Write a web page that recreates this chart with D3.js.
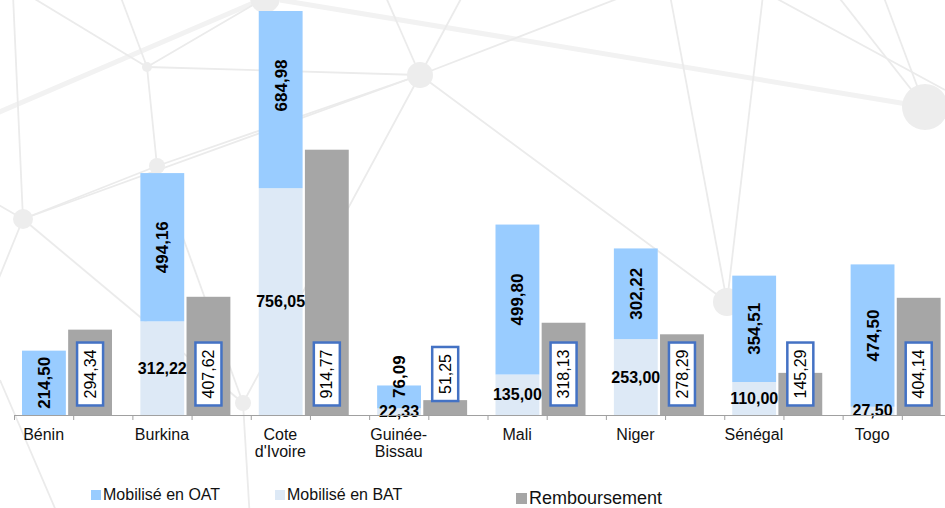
<!DOCTYPE html>
<html>
<head>
<meta charset="utf-8">
<script src="https://cdn.jsdelivr.net/npm/d3@7"></script>
<style>
  body { margin: 0; background: #fff; }
  svg { display: block; font-family: "Liberation Sans", Arial, sans-serif; }
</style>
</head>
<body>
<script>
'use strict';

// data
const countries = ['Bénin', 'Burkina', "Cote d'Ivoire", 'Guinée-Bissau', 'Mali', 'Niger', 'Sénégal', 'Togo'];
const countryLines = [['Bénin'], ['Burkina'], ['Cote', "d'Ivoire"], ['Guinée-', 'Bissau'], ['Mali'], ['Niger'], ['Sénégal'], ['Togo']];
const bat = [0, 312.22, 756.05, 22.33, 135.00, 253.00, 110.00, 27.50];
const oat = [214.50, 494.16, 684.98, 76.09, 499.80, 302.22, 354.51, 474.50];
const remb = [294.34, 407.62, 914.77, 51.25, 318.13, 278.29, 145.29, 404.14];
const seriesNames = ['Mobilisé en OAT', 'Mobilisé en BAT', 'Remboursement'];

// faint network in the background (decoration only)
const backdropNodes = [
  {x: 147, y: 67, r: 5}, {x: 157, y: 166, r: 8}, {x: 23, y: 219, r: 10},
  {x: 420, y: 75, r: 13}, {x: 265, y: -2, r: 15}, {x: 925, y: 107, r: 23},
  {x: 243, y: 403, r: 8}, {x: 727, y: 302, r: 14}
];
const backdropLinks = [
  [147, 67, 420, 75], [157, 166, 420, 75], [23, 219, 157, 166], [147, 67, 157, 166],
  [147, 67, 120, -5], [147, 67, 20, -10], [147, 67, 265, -2], [23, 219, 13, -5],
  [23, 219, 420, 75], [23, 219, 243, 403], [157, 166, 243, 403], [420, 75, 243, 403],
  [420, 75, 727, 302], [420, 75, 627, -5], [420, 75, 385, -5], [420, 75, 463, -5],
  [727, 302, 670, -5], [727, 302, 763, -5], [243, 403, 250, 520], [770, -5, 945, 90],
  [837, -5, 925, 107], [883, -5, 925, 107], [23, 219, -10, 200], [23, 219, -10, 300],
  [0, 380, 60, 520]
];
const backdropThick = [[280, 0, 925, 107], [-10, 116, 265, -2]];

const W = 945, H = 508;
const baseY = 415, plotTop = 11;

const svg = d3.select('body').append('svg').attr('width', W).attr('height', H);

const bg = svg.append('g');
bg.selectAll('line.thick').data(backdropThick).join('line')
  .attr('x1', d => d[0]).attr('y1', d => d[1]).attr('x2', d => d[2]).attr('y2', d => d[3])
  .attr('stroke', '#f2f2f2').attr('stroke-width', 5);
bg.selectAll('line.thin').data(backdropLinks).join('line')
  .attr('x1', d => d[0]).attr('y1', d => d[1]).attr('x2', d => d[2]).attr('y2', d => d[3])
  .attr('stroke', '#ebebeb').attr('stroke-width', 1.8);
bg.selectAll('circle').data(backdropNodes).join('circle')
  .attr('cx', d => d.x).attr('cy', d => d.y).attr('r', d => d.r)
  .attr('fill', '#ededed');

const xScale = d3.scaleBand().domain(countries).range([14, 961]).padding(0);
const inner = d3.scaleBand().domain(['stack', 'remb']).range([8, 98]).paddingInner(0.05);
const halfScale = d3.scaleLinear().domain([0, countries.length * 2]).range([14, 961]);

// stacked bars and repayments were drawn on slightly different axes
const yStack = d3.scaleLinear().domain([0, 1000]).range([baseY, baseY - 300]);
const yRemb = d3.scaleLinear().domain([0, 1000]).range([baseY, baseY - 290]);

const colors = {oat: '#99CCFF', bat: '#DDE9F6', remb: '#A6A6A6'};

const rows = countries.map((c, i) => ({c, i, bat: bat[i], oat: oat[i], remb: remb[i]}));

const g = svg.append('g');

// BAT (bottom)
g.selectAll('rect.bat').data(rows).join('rect')
  .attr('x', d => xScale(d.c) + inner('stack'))
  .attr('width', inner.bandwidth())
  .attr('y', d => yStack(d.bat))
  .attr('height', d => yStack(0) - yStack(d.bat))
  .attr('fill', colors.bat);

// OAT (top)
g.selectAll('rect.oat').data(rows).join('rect')
  .attr('x', d => xScale(d.c) + inner('stack'))
  .attr('width', inner.bandwidth())
  .attr('y', d => Math.max(plotTop, yStack(d.bat + d.oat)))
  .attr('height', d => yStack(d.bat) - Math.max(plotTop, yStack(d.bat + d.oat)))
  .attr('fill', colors.oat);

// Remboursement
g.selectAll('rect.remb').data(rows).join('rect')
  .attr('x', d => xScale(d.c) + inner('remb'))
  .attr('width', inner.bandwidth())
  .attr('y', d => yRemb(d.remb))
  .attr('height', d => yRemb(0) - yRemb(d.remb))
  .attr('fill', colors.remb);

// axis
const axis = d3.axisBottom(halfScale)
  .tickValues(d3.range(0, countries.length * 2 + 1))
  .tickSize(5).tickSizeOuter(0).tickFormat('');
const axisG = svg.append('g').attr('transform', `translate(0,${baseY})`).call(axis);
axisG.select('.domain').attr('stroke', '#a0a0a0');
axisG.selectAll('.tick line').attr('stroke', '#a0a0a0');

// category labels
const catG = svg.append('g');
rows.forEach(d => {
  const t = catG.append('text')
    .attr('x', xScale(d.c) + xScale.bandwidth() / 4)
    .attr('y', 440)
    .attr('text-anchor', 'middle')
    .attr('font-size', 16)
    .attr('fill', '#111');
  countryLines[d.i].forEach((line, k) => {
    t.append('tspan').attr('x', xScale(d.c) + xScale.bandwidth() / 4).attr('dy', k ? 17 : 0).text(line);
  });
});

const fmt = v => d3.format('.2f')(v).replace('.', ',');

// OAT labels (vertical, bold)
rows.forEach(d => {
  const cx = xScale(d.c) + inner('stack') + inner.bandwidth() / 2;
  const y0 = yStack(d.bat), y1 = yStack(d.bat + d.oat);
  const cy = (y0 + y1) / 2;
  const fits = (y0 - y1) > 48;
  g.append('text')
    .attr('transform', `translate(${cx},${fits ? cy : cy + 1}) rotate(-90)`)
    .attr('text-anchor', fits ? 'middle' : 'start')
    .attr('dy', '0.35em')
    .attr('font-size', 17).attr('font-weight', 'bold').attr('fill', '#000')
    .text(fmt(d.oat));
});

// BAT labels (horizontal, bold)
rows.filter(d => d.bat > 0).forEach(d => {
  const cx = xScale(d.c) + inner('stack') + inner.bandwidth() / 2;
  const cy = (yStack(0) + yStack(d.bat)) / 2;
  g.append('text')
    .attr('x', cx).attr('y', cy).attr('dy', '0.35em')
    .attr('text-anchor', 'middle')
    .attr('font-size', 16).attr('font-weight', 'bold').attr('fill', '#000')
    .text(fmt(d.bat));
});

// Remboursement labels in boxes
rows.forEach(d => {
  const cx = xScale(d.c) + inner('remb') + inner.bandwidth() / 2;
  const cy = yRemb(0) - 41;
  const lg = g.append('g').attr('transform', `translate(${cx},${cy}) rotate(-90)`);
  const rect = lg.append('rect');
  const t = lg.append('text')
    .attr('text-anchor', 'middle').attr('dy', '0.35em')
    .attr('font-size', 16).attr('fill', '#000')
    .text(fmt(d.remb));
  const len = t.node().getComputedTextLength();
  const pad = 7;
  rect.attr('x', -len / 2 - pad).attr('y', -13)
    .attr('width', len + pad * 2).attr('height', 26)
    .attr('fill', '#fff').attr('stroke', '#4472C4').attr('stroke-width', 2.5);
});

// legend
const legendItems = [
  {name: seriesNames[0], color: colors.oat, x: 91, y: 490, size: 10, font: 16},
  {name: seriesNames[1], color: colors.bat, x: 275, y: 490, size: 10, font: 16},
  {name: seriesNames[2], color: colors.remb, x: 516, y: 493, size: 11, font: 18}
];
const leg = svg.append('g');
legendItems.forEach(it => {
  leg.append('rect').attr('x', it.x).attr('y', it.y).attr('width', it.size).attr('height', it.size).attr('fill', it.color);
  leg.append('text').attr('x', it.x + it.size + 2).attr('y', it.y + it.size)
    .attr('font-size', it.font).attr('fill', '#111').text(it.name);
});
</script>
</body>
</html>
